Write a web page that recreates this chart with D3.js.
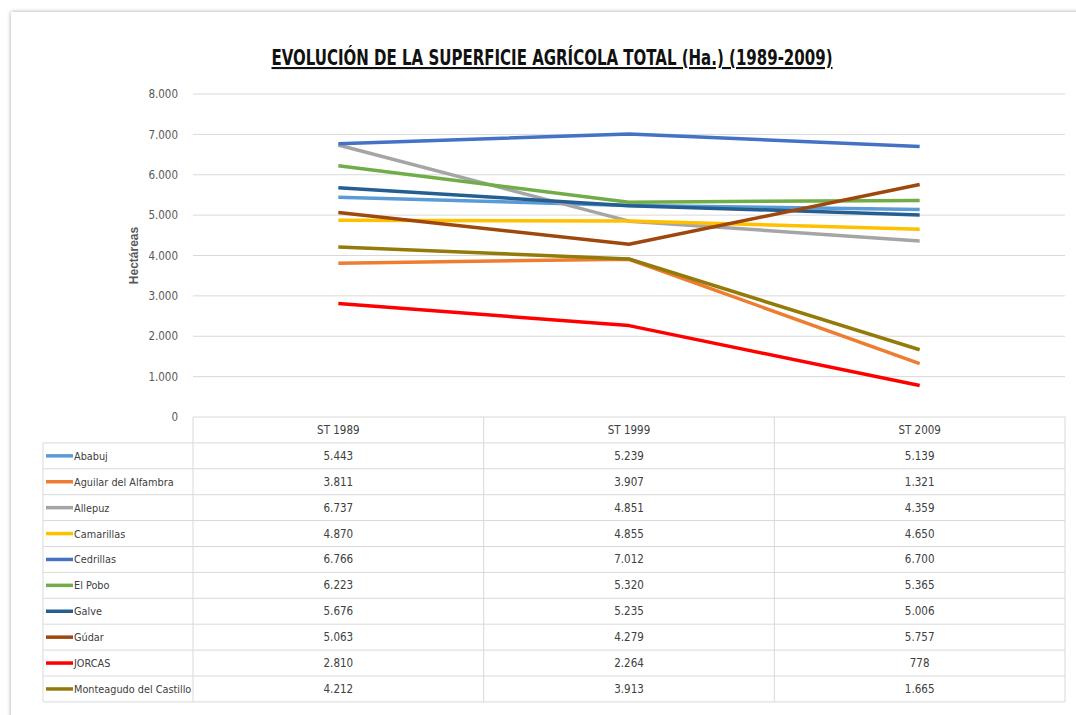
<!DOCTYPE html>
<html>
<head>
<meta charset="utf-8">
<script src="https://cdn.jsdelivr.net/npm/d3@7"></script>
<style>
  body { margin: 0; background: #fff; }
  svg { display: block; }
  .narrow { font-family: 'Liberation Sans Narrow', 'DejaVu Sans Condensed', 'Roboto Condensed', sans-serif; }
</style>
</head>
<body>
<div id="chart"></div>
<script>
const width = 1076
const height = 715

const categories = ['ST 1989', 'ST 1999', 'ST 2009']
const yTicks = [0, 1000, 2000, 3000, 4000, 5000, 6000, 7000, 8000]
const names = ['Ababuj', 'Aguilar del Alfambra', 'Allepuz', 'Camarillas', 'Cedrillas',
    'El Pobo', 'Galve', 'Gúdar', 'JORCAS', 'Monteagudo del Castillo']
const colors = ['#5b9bd5', '#ed7d31', '#a5a5a5', '#ffc000', '#4472c4',
    '#70ad47', '#255e91', '#9e480e', '#ff0000', '#937a0a']
const ababuj = [5443, 5239, 5139]
const aguilar = [3811, 3907, 1321]
const allepuz = [6737, 4851, 4359]
const camarillas = [4870, 4855, 4650]
const cedrillas = [6766, 7012, 6700]
const elPobo = [6223, 5320, 5365]
const galve = [5676, 5235, 5006]
const gudar = [5063, 4279, 5757]
const jorcas = [2810, 2264, 778]
const monteagudo = [4212, 3913, 1665]

const values = [ababuj, aguilar, allepuz, camarillas, cedrillas, elPobo, galve, gudar, jorcas, monteagudo]
const series = names.map((n, i) => ({name: n, color: colors[i], values: values[i]}))

const plot = {left: 193, right: 1065, top: 94, bottom: 417}
const legendLeft = 43
const rowH = 25.9

const fmt = d3.formatLocale({decimal: ',', thousands: '.', grouping: [3]}).format(',d')

const svg = d3.select('#chart')
    .append('svg')
    .attr('width', width)
    .attr('height', height)

// page frame with soft shadow
const defs = svg.append('defs')
const f = defs.append('filter').attr('id', 'shadow').attr('x', '-5%').attr('y', '-5%').attr('width', '110%').attr('height', '110%')
f.append('feDropShadow').attr('dx', 0).attr('dy', 0).attr('stdDeviation', 2).attr('flood-color', '#000').attr('flood-opacity', 0.35)

svg.append('rect')
    .attr('x', 11).attr('y', 12)
    .attr('width', width + 20).attr('height', height + 20)
    .attr('fill', '#fff')
    .attr('filter', 'url(#shadow)')

const x = d3.scaleBand()
    .domain(categories)
    .range([plot.left, plot.right])

const y = d3.scaleLinear()
    .domain([0, 8000])
    .range([plot.bottom, plot.top])

// gridlines
svg.append('g')
    .selectAll('line')
    .data(yTicks.filter(d => d > 0))
    .enter()
    .append('line')
    .attr('x1', plot.left)
    .attr('x2', plot.right)
    .attr('y1', d => y(d))
    .attr('y2', d => y(d))
    .attr('stroke', '#d9d9d9')
    .attr('stroke-width', 1)

// y axis labels
const yAxis = svg.append('g')
    .attr('class', 'narrow')
    .attr('transform', `translate(${plot.left - 12},0)`)
    .call(d3.axisLeft(y).tickValues(yTicks).tickFormat(fmt).tickSize(0))
yAxis.select('.domain').remove()
yAxis.selectAll('text')
    .attr('fill', '#595959')
    .attr('font-size', 11.5)
    .attr('font-family', null)

svg.append('text')
    .attr('transform', `translate(138,${(plot.top + plot.bottom) / 2}) rotate(-90)`)
    .attr('text-anchor', 'middle')
    .attr('font-family', 'Liberation Sans, Arial, sans-serif')
    .attr('font-size', 12)
    .attr('font-weight', 'bold')
    .attr('fill', '#595959')
    .text('Hectáreas')

// title
svg.append('text')
    .attr('class', 'narrow')
    .attr('x', 552)
    .attr('y', 65)
    .attr('text-anchor', 'middle')
    .attr('font-size', 21)
    .attr('font-weight', 'bold')
    .attr('text-decoration', 'underline')
    .attr('textLength', 561)
    .attr('lengthAdjust', 'spacingAndGlyphs')
    .attr('fill', '#111')
    .text('EVOLUCIÓN DE LA SUPERFICIE AGRÍCOLA TOTAL (Ha.) (1989-2009)')

// lines
const line = d3.line()
    .x((d, i) => x(categories[i]) + x.bandwidth() / 2)
    .y(d => y(d))

svg.append('g')
    .selectAll('path')
    .data(series)
    .enter()
    .append('path')
    .attr('d', d => line(d.values))
    .attr('fill', 'none')
    .attr('stroke', d => d.color)
    .attr('stroke-width', 3.5)
    .attr('stroke-linejoin', 'round')

// data table
const table = svg.append('g').attr('class', 'narrow')
const tableBottom = plot.bottom + rowH * (series.length + 1)
const gridColor = '#d9d9d9'

// horizontal lines
table.append('line')
    .attr('x1', plot.left).attr('x2', plot.right)
    .attr('y1', plot.bottom).attr('y2', plot.bottom)
    .attr('stroke', gridColor)
table.selectAll('line.row')
    .data(d3.range(1, series.length + 2))
    .enter()
    .append('line')
    .attr('class', 'row')
    .attr('x1', legendLeft).attr('x2', plot.right)
    .attr('y1', d => plot.bottom + d * rowH)
    .attr('y2', d => plot.bottom + d * rowH)
    .attr('stroke', gridColor)

// vertical lines
table.append('line')
    .attr('x1', legendLeft).attr('x2', legendLeft)
    .attr('y1', plot.bottom + rowH).attr('y2', tableBottom)
    .attr('stroke', gridColor)
table.selectAll('line.col')
    .data(categories.map(c => x(c)).concat([plot.right]))
    .enter()
    .append('line')
    .attr('class', 'col')
    .attr('x1', d => d).attr('x2', d => d)
    .attr('y1', plot.bottom).attr('y2', tableBottom)
    .attr('stroke', gridColor)

// header
table.selectAll('text.head')
    .data(categories)
    .enter()
    .append('text')
    .attr('class', 'head')
    .attr('x', d => x(d) + x.bandwidth() / 2)
    .attr('y', plot.bottom + rowH / 2 + 4)
    .attr('text-anchor', 'middle')
    .attr('font-size', 11.5)
    .attr('fill', '#404040')
    .text(d => d)

const rows = table.selectAll('g.trow')
    .data(series)
    .enter()
    .append('g')
    .attr('class', 'trow')
    .attr('transform', (d, i) => `translate(0,${plot.bottom + (i + 1) * rowH + rowH / 2})`)

rows.append('line')
    .attr('x1', legendLeft + 3).attr('x2', legendLeft + 30)
    .attr('y1', 0).attr('y2', 0)
    .attr('stroke', d => d.color)
    .attr('stroke-width', 3.5)

rows.append('text')
    .attr('x', legendLeft + 31)
    .attr('y', 4)
    .attr('font-size', 10.8)
    .attr('fill', '#404040')
    .text(d => d.name)

rows.selectAll('text.val')
    .data(d => d.values)
    .enter()
    .append('text')
    .attr('class', 'val')
    .attr('x', (d, i) => x(categories[i]) + x.bandwidth() / 2)
    .attr('y', 4)
    .attr('text-anchor', 'middle')
    .attr('font-size', 11.5)
    .attr('fill', '#404040')
    .text(d => fmt(d))
</script>
</body>
</html>
